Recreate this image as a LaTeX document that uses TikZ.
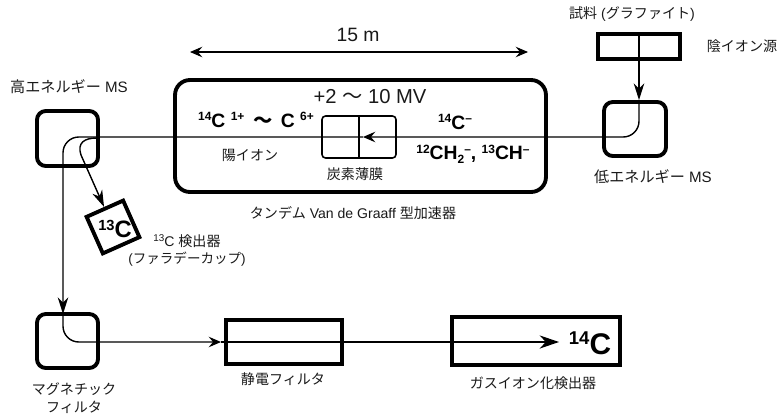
\documentclass[tikz,border=0pt]{standalone}
\usepackage{graphicx}
\usepackage{fontspec}
\setmainfont{Liberation Sans}
\newfontfamily\jp{Noto Sans CJK JP}
\usetikzlibrary{positioning, arrows.meta}
\newcommand{\iso}[2]{\raisebox{0.33em}{\scalebox{0.62}{#1}}#2}

\begin{document}
\begin{tikzpicture}[
          x=0.02cm, y=-0.02cm,
          box/.style={rectangle, draw=black, line width=2.2pt, inner sep=0pt},
          magbox/.style={box, rounded corners=5pt},
          lbl/.style={font=\fontsize{8}{10}\selectfont, align=center, text=black!90},
          lblms/.style={lbl, font=\fontsize{8.6}{10}\selectfont},
          ion/.style={font=\fontsize{11}{13}\selectfont\bfseries, text=black},
          arr/.style={-{Stealth[length=7pt, width=6pt, inset=2.5pt]}, line width=0.8pt},
          bigarr/.style={-{Stealth[length=9.5pt, width=6pt, inset=3pt]}, line width=0.8pt}
        ]
        \useasboundingbox (0,0) rectangle (778,416);

        % Source and low energy MS
        \node[box, minimum width=1.64cm, minimum height=0.5cm] (smp) at (639,46.5) {};
        \node[magbox, minimum width=1.24cm, minimum height=1.08cm] (lms) at (635,129) {};
        \node[lbl] (smplbl) at (632,14) {{\jp 試料} ({\jp グラファイト})};
        \node[lbl] (srclbl) at (742,46) {\jp 陰イオン源};
        \node[lblms] (lmslbl) at (653,177) {{\jp 低エネルギー} MS};

        % Accelerator
        \node[box, rounded corners=8.5pt, minimum width=7.42cm, minimum height=2.24cm] (acc) at (360.5,136) {};
        \node[box, line width=0.9pt, rounded corners=2pt, minimum width=1.48cm, minimum height=0.84cm] (foil) at (359,137) {};
        \draw[line width=0.8pt] (foil.north) -- (foil.south);
        \node[lbl, font=\fontsize{11.5}{13}\selectfont] (mv) at (370,97) {+2 {\jp 〜} 10 MV};
        \node[ion] (posion) at (256,120) {\iso{14}{C}\;\iso{1+}{}\;\,{\jp 〜}\;\,C\;\iso{6+}{}};
        \node[lbl] (poslbl) at (250,155) {\jp 陽イオン};
        \node[lbl] (foillbl) at (355,174) {\jp 炭素薄膜};
        \node[ion] (negc) at (455,122) {\iso{14}{C}\raisebox{0.33em}{\scalebox{0.62}{--}}};
        \node[ion] (negch) at (473,154) {\iso{12}{CH}\raisebox{-0.2em}{\scalebox{0.62}{2}}\raisebox{0.33em}{\scalebox{0.62}{--}}, \iso{13}{CH}\raisebox{0.33em}{\scalebox{0.62}{--}}};
        \node[lbl] (acclbl) at (353,213) {{\jp タンデム} Van de Graaff {\jp 型加速器}};

        % Dimension
        \node[lbl, font=\fontsize{11}{13}\selectfont] (dimlbl) at (358,35) {15 m};
        \coordinate (diml) at (190,52);
        \coordinate (dimr) at (528,52);
        \draw[{Stealth[length=7pt, width=6pt, inset=2.5pt]}-{Stealth[length=7pt, width=6pt, inset=2.5pt]}, line width=0.6pt] (diml) -- (dimr);

        % High energy MS and 13C detector
        \node[magbox, minimum width=1.22cm, minimum height=1.1cm] (hms) at (67.5,138.5) {};
        \node[lblms] (hmslbl) at (69,87) {{\jp 高エネルギー} MS};
        \node[box, rotate=24, minimum width=0.8cm, minimum height=0.8cm] (det) at (113,227) {};
        \node[font=\fontsize{13.5}{16}\selectfont\bfseries] (dettxt) at (115,229) {\iso{13}{C}};
        \node[lbl] (detlbl) at (187,241) {\raisebox{0.33em}{\scalebox{0.7}{13}}C {\jp 検出器}};
        \node[lbl, font=\fontsize{7.7}{10}\selectfont] (cuplbl) at (187,259) {({\jp ファラデーカップ})};

        % Lower row
        \node[magbox, minimum width=1.22cm, minimum height=1.08cm] (mf) at (67.5,341) {};
        \node[lbl] (mflbl) at (74,398) {\jp マグネチック\\\jp フィルタ};
        \node[box, minimum width=2.32cm, minimum height=0.88cm] (es) at (284,342) {};
        \node[lbl] (eslbl) at (283,379) {\jp 静電フィルタ};
        \node[box, minimum width=3.36cm, minimum height=0.96cm] (gas) at (536,341) {};
        \node[lbl] (gaslbl) at (533,383) {\jp ガスイオン化検出器};
        \node[font=\fontsize{17}{19}\selectfont\bfseries] (gastxt) at (590,343) {\iso{14}{C}};

        % Beam
        \coordinate (lmsin) at (smp.north |- lms.north);
        \coordinate (foiltip) at (363,137);
        \coordinate (mfin) at (63,314);
        \coordinate (brstart) at (97,138);
        \coordinate (estip) at (221,342);
        \coordinate (gastip) at (559,342);
        \draw[bigarr] (smp.north) -- (lmsin);
        \draw[arr, rounded corners=9pt] (lmsin) |- (foiltip);
        \draw[bigarr, rounded corners=9pt] (foiltip) -| (mfin);
        \draw[bigarr] (brstart) .. controls (84,138) and (77,143) .. (81,155) -- (det.north);
        \draw[arr, rounded corners=9pt] (mfin) |- (estip);
        \draw[-{Stealth[length=11pt, width=7.5pt, inset=3.5pt]}, line width=0.8pt] (estip) -- (gastip);
\end{tikzpicture}
\end{document}
